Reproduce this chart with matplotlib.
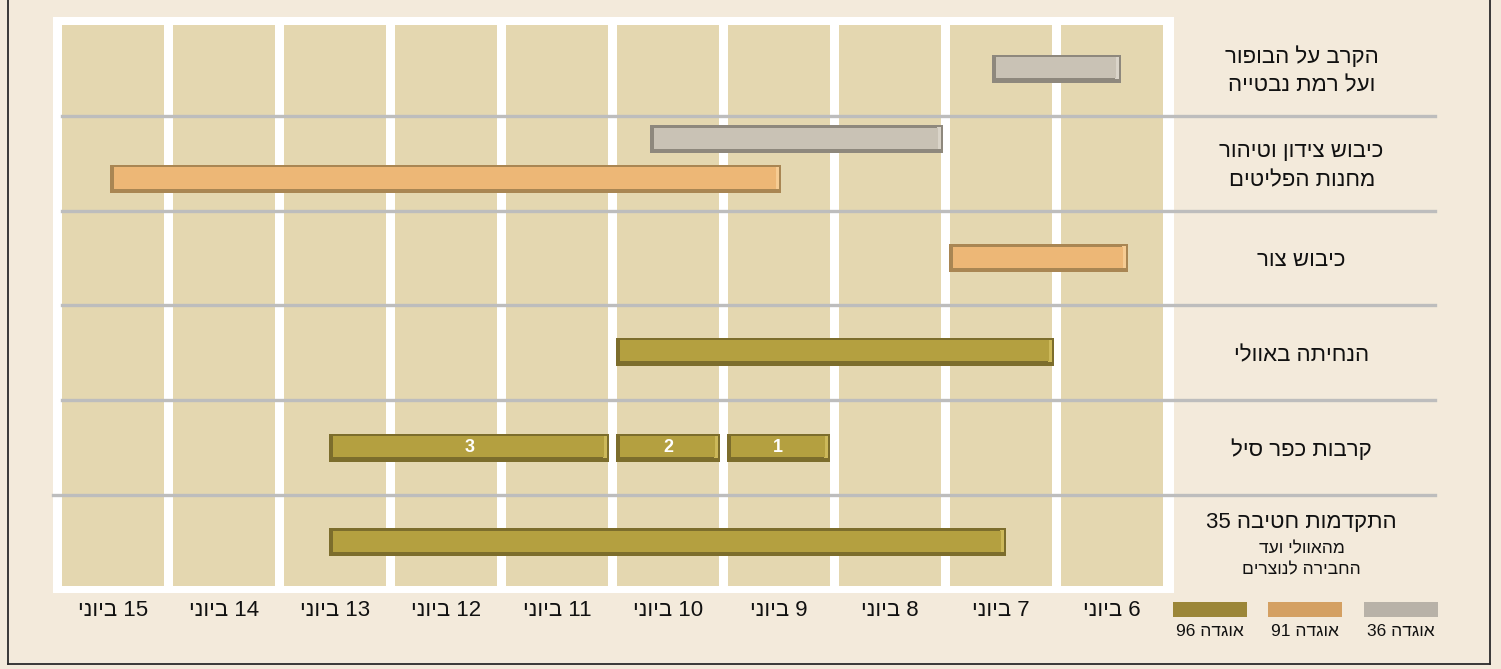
import re
import matplotlib
matplotlib.use("Agg")
import matplotlib.pyplot as plt
from matplotlib.patches import Rectangle
from matplotlib.lines import Line2D

plt.rcParams['font.family'] = ['Liberation Sans', 'DejaVu Sans']

W, H = 1501, 669

# ---------------- data ----------------
day_labels = ["6 ביוני", "7 ביוני", "8 ביוני", "9 ביוני", "10 ביוני",
              "11 ביוני", "12 ביוני", "13 ביוני", "14 ביוני", "15 ביוני"]

row_titles = ["הקרב על הבופור\nועל רמת נבטייה",
              "כיבוש צידון וטיהור\nמחנות הפליטים",
              "כיבוש צור",
              "הנחיתה באוולי",
              "קרבות כפר סיל",
              "התקדמות חטיבה 35"]
row6_sub_1 = "מהאוולי ועד"
row6_sub_2 = "החבירה לנוצרים"

division_names = ["אוגדה 96", "אוגדה 91", "אוגדה 36"]

# bars: (row index, start day offset from 6 June 00:00, end offset, division, label)
bar_rows = [0, 1, 1, 2, 3, 4, 4, 4, 5]
bar_start = [0.42, 2.02, 3.48, 0.35, 1.02, 3.04, 4.03, 5.03, 1.45]
bar_end = [1.58, 4.66, 9.53, 1.97, 4.97, 3.97, 4.97, 7.55, 7.55]
bar_division = ["36", "36", "91", "91", "96", "96", "96", "96", "96"]
bar_text = ["", "", "", "", "", "1", "2", "3", ""]

# ---------------- styles ----------------
fill = {"96": "#B4A040", "91": "#EDB776", "36": "#C9C2B5"}
dark = {"96": "#7C6D2C", "91": "#A98653", "36": "#8E887D"}
light = {"96": "#CDB95A", "91": "#F6CC93", "36": "#DAD4C9"}
legend_col = {"96": "#9B8638", "91": "#D4A062", "36": "#B8B2A8"}
bar_offset = [0.0, -0.255, 0.165, 0.0, -0.01, 0.0, 0.0, 0.0, 0.0]
BAR_H = 0.296


def vis(s):
    """logical RTL Hebrew -> visual order for LTR renderer"""
    r = s[::-1]
    return re.sub(r'\d+', lambda m: m.group(0)[::-1], r)


def vis_lines(s):
    return "\n".join(vis(line) for line in s.split("\n"))


fig = plt.figure(figsize=(W / 100, H / 100), dpi=100)
fig.patch.set_facecolor("#F3EADB")

# outer frame
for xs, ys in [((8, 8), (-5, 664)), ((8, 1490), (664, 664)), ((1490, 1490), (-5, 664))]:
    fig.add_artist(Line2D([x / W for x in xs], [1 - y / H for y in ys],
                          transform=fig.transFigure, color="#2a2a2a", lw=1.3))

ax_left, ax_right, ax_top, ax_bot = 53, 1174, 17, 593
ax = fig.add_axes([ax_left / W, 1 - ax_bot / H, (ax_right - ax_left) / W,
                   (ax_bot - ax_top) / H])
ax.set_facecolor("white")
ax.set_xlim(10.04, -0.06)
ax.set_ylim(6.035, -0.045)
for s in ax.spines.values():
    s.set_visible(False)

ndays = len(day_labels)
nrows = len(row_titles)

# tan day columns
for i in range(ndays):
    ax.add_patch(Rectangle((i + 0.04, 0.04), 0.92, nrows - 0.08,
                           facecolor="#E4D7B0", edgecolor="none", zorder=1))

# row separators
for r in range(1, nrows):
    xmin = 0.0 if r == nrows - 1 else 0.008
    ax.axhline(r, xmin=xmin, xmax=1.233, color="#BDBDBD", lw=2.4,
               clip_on=False, zorder=2)

# bars with bevel
px_x = 1 / 111.0
px_y = 1 / 94.75
for r, s0, e0, d, t, off in zip(bar_rows, bar_start, bar_end, bar_division,
                                 bar_text, bar_offset):
    yc = r + 0.5 + off
    y0 = yc - BAR_H / 2
    w = e0 - s0
    ax.add_patch(Rectangle((s0, y0), w, BAR_H, facecolor=dark[d],
                           edgecolor="none", zorder=3))
    ax.add_patch(Rectangle((s0 + 2 * px_x, y0 + 2 * px_y), 4 * px_x, BAR_H - 6 * px_y,
                           facecolor=light[d], edgecolor="none", zorder=4))
    ax.add_patch(Rectangle((s0 + 5 * px_x, y0 + 2.5 * px_y), w - 9 * px_x,
                           BAR_H - 7 * px_y, facecolor=fill[d], edgecolor="none",
                           zorder=5))
    if t:
        ax.text((s0 + e0) / 2, yc, t, ha="center", va="center", color="white",
                fontsize=13, fontweight="bold", zorder=6)

# x tick labels
ax.set_xticks([i + 0.5 for i in range(ndays)])
ax.set_xticklabels([vis(l) for l in day_labels], fontsize=16, color="#111111")
ax.tick_params(axis="x", length=0, pad=5)
ax.set_yticks([])

# row titles
label_x = -1.21
for r, title in enumerate(row_titles):
    if r == nrows - 1:
        ax.text(label_x, r + 0.295, vis_lines(title), ha="center", va="center",
                fontsize=16, color="#111111", clip_on=False)
        ax.text(label_x, r + 0.575, vis(row6_sub_1), ha="center", va="center",
                fontsize=12.5, color="#111111", clip_on=False)
        ax.text(label_x, r + 0.79, vis(row6_sub_2), ha="center", va="center",
                fontsize=12.5, color="#111111", clip_on=False)
    else:
        ax.text(label_x, r + 0.53, vis_lines(title), ha="center", va="center",
                fontsize=16, color="#111111", clip_on=False, linespacing=1.5)

# legend
leg_x = [1173, 1268, 1364]
for x0, name in zip(leg_x, division_names):
    code = re.findall(r'\d+', name)[0]
    fig.add_artist(Rectangle((x0 / W, 1 - 617 / H), 74 / W, 15 / H,
                             transform=fig.transFigure, facecolor=legend_col[code],
                             edgecolor="none"))
    fig.text((x0 + 37) / W, 1 - 631 / H, vis(name), ha="center", va="center",
             fontsize=12.5, color="#111111")

fig.savefig("out.png", dpi=100, facecolor=fig.get_facecolor())
